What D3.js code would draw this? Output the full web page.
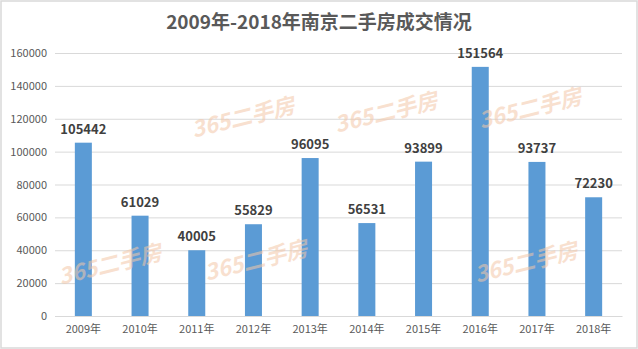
<!DOCTYPE html>
<html>
<head>
<meta charset="utf-8">
<script src="https://d3js.org/d3.v7.min.js"></script>
<style>
  body { margin:0; background:#fff; }
  svg text { font-family: "Noto Sans CJK SC", "Noto Sans", sans-serif; }
</style>
</head>
<body>
<svg id="chart" width="638" height="349"></svg>
<script>
  // data
  var years = ["2009年","2010年","2011年","2012年","2013年","2014年","2015年","2016年","2017年","2018年"];
  var deals = [105442, 61029, 40005, 55829, 96095, 56531, 93899, 151564, 93737, 72230];
  var yTicks = [0, 20000, 40000, 60000, 80000, 100000, 120000, 140000, 160000];

  var margin = {top:53, right:16, bottom:33, left:55},
      width = 638 - margin.left - margin.right,
      height = 349 - margin.top - margin.bottom;

  var svg = d3.select('#chart');

  // outer frame
  svg.append('rect')
     .attr('x',1).attr('y',1).attr('width',636).attr('height',347)
     .attr('fill','#fff').attr('stroke','#d9d9d9').attr('stroke-width',1.5);

  svg.append('text')
     .attr('x',319).attr('y',29)
     .attr('text-anchor','middle')
     .attr('font-size','19px').attr('font-weight','bold')
     .attr('fill','#595959')
     .text('2009年-2018年南京二手房成交情况');

  var g = svg.append('g').attr('transform','translate('+margin.left+','+margin.top+')');

  var x = d3.scaleBand().domain(years).range([0,width]).paddingInner(0.7).paddingOuter(0.35);
  var y = d3.scaleLinear().domain([0,160000]).range([height,0]);

  // gridlines
  g.append('g').selectAll('line').data(yTicks).enter().append('line')
     .attr('x1',0).attr('x2',width)
     .attr('y1',function(d){return y(d)+0.5;}).attr('y2',function(d){return y(d)+0.5;})
     .attr('stroke','#d9d9d9').attr('stroke-width',1);

  // y axis labels
  var yAxis = d3.axisLeft(y).tickValues(yTicks).tickSize(0).tickPadding(8).tickFormat(d3.format('d'));
  var ya = g.append('g').call(yAxis);
  ya.select('.domain').remove();
  ya.selectAll('text').attr('fill','#595959').attr('font-size','11px');

  // watermark
  var marks = [[245,125],[388,120],[532,116],[112,272],[258,268],[528,270]];
  svg.append('g').selectAll('text').data(marks).enter().append('text')
     .attr('transform',function(d){return 'translate('+d[0]+','+d[1]+') rotate(-14)';})
     .attr('text-anchor','middle')
     .attr('font-size','22px').attr('font-weight','bold').attr('font-style','italic')
     .attr('fill','#f4c7a8').attr('opacity',0.55)
     .text('365二手房');

  // bars
  g.selectAll('rect.bar').data(deals).enter().append('rect')
     .attr('class','bar')
     .attr('x',function(d,i){return x(years[i]);})
     .attr('y',function(d){return y(d);})
     .attr('width',x.bandwidth())
     .attr('height',function(d){return height-y(d);})
     .attr('fill','#5b9bd5');

  // value labels
  g.selectAll('text.val').data(deals).enter().append('text')
     .attr('class','val')
     .attr('x',function(d,i){return x(years[i])+x.bandwidth()/2;})
     .attr('y',function(d){return y(d)-9;})
     .attr('text-anchor','middle')
     .attr('font-size','13px').attr('font-weight','bold')
     .attr('fill','#404040')
     .text(function(d){return d;});

  // x axis
  var xAxis = d3.axisBottom(x).tickSize(0).tickPadding(9);
  var xa = g.append('g').attr('transform','translate(0,'+height+')').call(xAxis);
  xa.select('.domain').attr('stroke','#d9d9d9');
  xa.selectAll('text').attr('fill','#595959').attr('font-size','11px');
</script>
</body>
</html>
